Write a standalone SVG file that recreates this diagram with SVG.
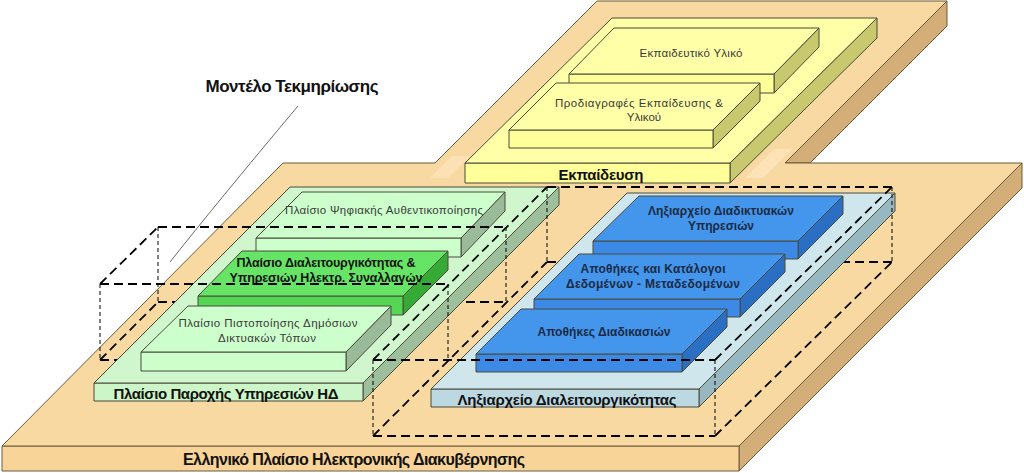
<svg xmlns="http://www.w3.org/2000/svg" width="1024" height="473" viewBox="0 0 1024 473">
<defs>
<style>
.edge{stroke:#4a4a3a;stroke-width:1;stroke-linejoin:round}
.bt{stroke:#6b5a3a;stroke-width:1;stroke-linejoin:round}
.oTop{fill:#F9D9A2}.oFront{fill:#F8D498}.oSide{fill:#D3AE78}
.yTop{fill:#FFFFA8}.yFront{fill:#FFFF99}.ySide{fill:#C8C86E}
.gTop{fill:#CFF6CC}.gFront{fill:#CCF5C8}.gSide{fill:#9DBF9B}
.sTop{fill:#CCFFCC}.sFront{fill:#CCFFCC}.sSide{fill:#99BB99}
.bgTop{fill:#66E466}.bgFront{fill:#55D655}.bgSide{fill:#35AA35}
.lbTop{fill:#CFE6EC}.lbFront{fill:#BCD9E2}.lbSide{fill:#98B8C1}
.bTop{fill:#4496EC}.bFront{fill:#3C8AE5}.bSide{fill:#2A6FC4}
.dash{fill:none;stroke:#000;stroke-width:1.8;stroke-dasharray:9 5}
.vdash{fill:none;stroke:#000;stroke-width:1;stroke-dasharray:4 3}
.t{font-family:"Liberation Sans",Arial,sans-serif;text-anchor:middle}
.norm{font-size:11.5px;fill:#3a3a3a}
.bold{font-weight:bold;fill:#111}
.navy{font-weight:bold;font-size:12px;fill:#1c2a44}
</style>
</defs>

<!-- Base plate -->
<g id="base">
<polygon class="oSide bt" points="947,1 947,26 810,163 785,163"/>
<polygon class="oSide bt" points="1022,163 1022,188 739,471 739,446"/>
<polygon class="oFront bt" points="2,446 739,446 739,471 2,471"/>
<polygon class="oTop bt" points="597,1 947,1 785,163 1022,163 739,446 2,446 283,163 435,163"/>
<polygon fill="#FCE4BC" opacity="0.8" points="745,178 763,178 792,149 774,149"/>
<polygon fill="#FCE4BC" opacity="0.7" points="430,178 448,178 470,156 452,156"/>
<text class="t bold" x="354" y="465" font-size="16" textLength="342">Ελληνικό Πλαίσιο Ηλεκτρονικής Διακυβέρνησης</text>
</g>

<!-- Hidden (back) dashed segments -->
<g id="model-back">
<line class="dash" x1="158" y1="302" x2="506" y2="302"/>
<line class="dash" x1="100" y1="360" x2="373" y2="360"/>
<line class="dash" x1="547" y1="262" x2="892" y2="262"/>
</g>

<!-- Education -->
<g id="ekpaideusi">
<polygon class="ySide edge" points="730,163 877,18 877,38 730,183"/>
<polygon class="yFront edge" points="465,163 730,163 730,183 465,183"/>
<polygon class="yTop edge" points="612,18 877,18 730,163 465,163"/>
<text class="t bold" x="601" y="180" font-size="15" textLength="85">Εκπαίδευση</text>
</g>
<g id="ekpaideutiko-yliko">
<polygon class="ySide edge" points="774,74 819,28 819,47 774,93"/>
<polygon class="yFront edge" points="569,74 774,74 774,93 569,93"/>
<polygon class="yTop edge" points="614,28 819,28 774,74 569,74"/>
<text class="t norm" x="691" y="57" textLength="103">Εκπαιδευτικό Υλικό</text>
</g>
<g id="prodiagrafes">
<polygon class="ySide edge" points="713,130 760,83 760,101 713,148"/>
<polygon class="yFront edge" points="509,130 713,130 713,148 509,148"/>
<polygon class="yTop edge" points="556,83 760,83 713,130 509,130"/>
<text class="t norm" x="639" y="107" textLength="168">Προδιαγραφές Εκπαίδευσης  &amp;</text>
<text class="t norm" x="644" y="121">Υλικού</text>
</g>

<!-- Service provision framework (green) -->
<g id="plaisio-paroxis">
<polygon class="gSide edge" points="363,383 559,187 559,205 363,401"/>
<polygon class="gFront edge" points="94,383 363,383 363,401 94,401"/>
<polygon class="gTop edge" points="290,187 559,187 363,383 94,383"/>
<text class="t bold" x="226" y="399" font-size="15" textLength="225">Πλαίσιο Παροχής Υπηρεσιών ΗΔ</text>
</g>
<g id="psifiaki-afthentikopoiisi">
<polygon class="sSide edge" points="461,238 505,192 505,211 461,257"/>
<polygon class="sFront edge" points="256,238 461,238 461,257 256,257"/>
<polygon class="sTop edge" points="302,192 505,192 461,238 256,238"/>
<text class="t norm" x="384" y="214" textLength="198">Πλαίσιο Ψηφιακής Αυθεντικοποίησης</text>
</g>
<g id="dialeitourgikotita">
<polygon class="bgSide edge" points="403,296 448,251 448,270 403,315"/>
<polygon class="bgFront edge" points="198,296 403,296 403,315 198,315"/>
<polygon class="bgTop edge" points="242,251 448,251 403,296 198,296"/>
<text class="t bold" x="326" y="266.5" font-size="12.5" textLength="179">Πλαίσιο Διαλειτουργικότητας &amp;</text>
<text class="t bold" x="326" y="281.5" font-size="12.5" textLength="193">Υπηρεσιών Ηλεκτρ. Συναλλαγών</text>
</g>
<g id="pistopoiisi">
<polygon class="sSide edge" points="346,352 391,306 391,325 346,371"/>
<polygon class="sFront edge" points="141,352 346,352 346,371 141,371"/>
<polygon class="sTop edge" points="188,306 391,306 346,352 141,352"/>
<text class="t norm" x="268" y="327" textLength="179">Πλαίσιο Πιστοποίησης Δημόσιων</text>
<text class="t norm" x="267" y="342" textLength="98">Δικτυακών Τόπων</text>
</g>

<!-- Interoperability registry (blue) -->
<g id="lixiarxeio-dialeitourgikotitas">
<polygon class="lbSide edge" points="699,389 895,193 895,211 699,407"/>
<polygon class="lbFront edge" points="431,389 699,389 699,407 431,407"/>
<polygon class="lbTop edge" points="627,193 895,193 699,389 431,389"/>
<text class="t bold" x="567" y="405" font-size="15" textLength="219">Ληξιαρχείο Διαλειτουργικότητας</text>
</g>
<g id="lixiarxeio-diadiktyakon">
<polygon class="bSide edge" points="798,241 843,196 843,214 798,259"/>
<polygon class="bFront edge" points="593,241 798,241 798,259 593,259"/>
<polygon class="bTop edge" points="639,196 843,196 798,241 593,241"/>
<text class="t navy" x="721" y="215" textLength="146">Ληξιαρχείο Διαδικτυακών</text>
<text class="t navy" x="721" y="229.5" textLength="66">Υπηρεσιών</text>
</g>
<g id="apothikes-dedomenon">
<polygon class="bSide edge" points="740,299 785,254 785,272 740,317"/>
<polygon class="bFront edge" points="534,299 740,299 740,317 534,317"/>
<polygon class="bTop edge" points="579,254 785,254 740,299 534,299"/>
<text class="t navy" x="653" y="272.5" textLength="145">Αποθήκες και Κατάλογοι</text>
<text class="t navy" x="653" y="287.5" textLength="174">Δεδομένων - Μεταδεδομένων</text>
</g>
<g id="apothikes-diadikasion">
<polygon class="bSide edge" points="682,354 727,309 727,327 682,372"/>
<polygon class="bFront edge" points="476,354 682,354 682,372 476,372"/>
<polygon class="bTop edge" points="521,309 727,309 682,354 476,354"/>
<text class="t navy" x="604" y="335.5" textLength="133">Αποθήκες Διαδικασιών</text>
</g>

<!-- Documentation model: dashed wireframe boxes -->
<g id="model-front">
<!-- left box -->
<line class="dash" x1="100" y1="284" x2="448" y2="284"/>
<line class="dash" x1="158" y1="227" x2="506" y2="227"/>
<line class="dash" x1="100" y1="284" x2="158" y2="227"/>
<line class="dash" x1="100" y1="360" x2="158" y2="302"/>
<line class="vdash" x1="100" y1="284" x2="100" y2="360"/>
<line class="vdash" x1="158" y1="227" x2="158" y2="302"/>
<line class="vdash" x1="448" y1="284" x2="448" y2="360"/>
<line class="vdash" x1="506" y1="227" x2="506" y2="302"/>
<!-- right box -->
<line class="dash" x1="373" y1="360" x2="715" y2="360"/>
<line class="dash" x1="373" y1="436" x2="715" y2="436"/>
<line class="dash" x1="547" y1="187" x2="892" y2="187"/>
<line class="dash" x1="373" y1="360" x2="547" y2="187"/>
<line class="dash" x1="373" y1="436" x2="547" y2="262"/>
<line class="dash" x1="715" y1="360" x2="892" y2="187"/>
<line class="dash" x1="715" y1="436" x2="892" y2="262"/>
<line class="vdash" x1="373" y1="360" x2="373" y2="436"/>
<line class="vdash" x1="715" y1="360" x2="715" y2="436"/>
<line class="vdash" x1="547" y1="187" x2="547" y2="262"/>
<line class="vdash" x1="892" y1="187" x2="892" y2="262"/>
</g>

<g id="connectors">
<path d="M298,106 Q215,205 170,262" fill="none" stroke="#6a6a6a" stroke-width="1"/>
</g>

<g id="model-label">
<text class="t bold" x="292" y="92" font-size="17" textLength="173">Μοντέλο Τεκμηρίωσης</text>
</g>
</svg>
